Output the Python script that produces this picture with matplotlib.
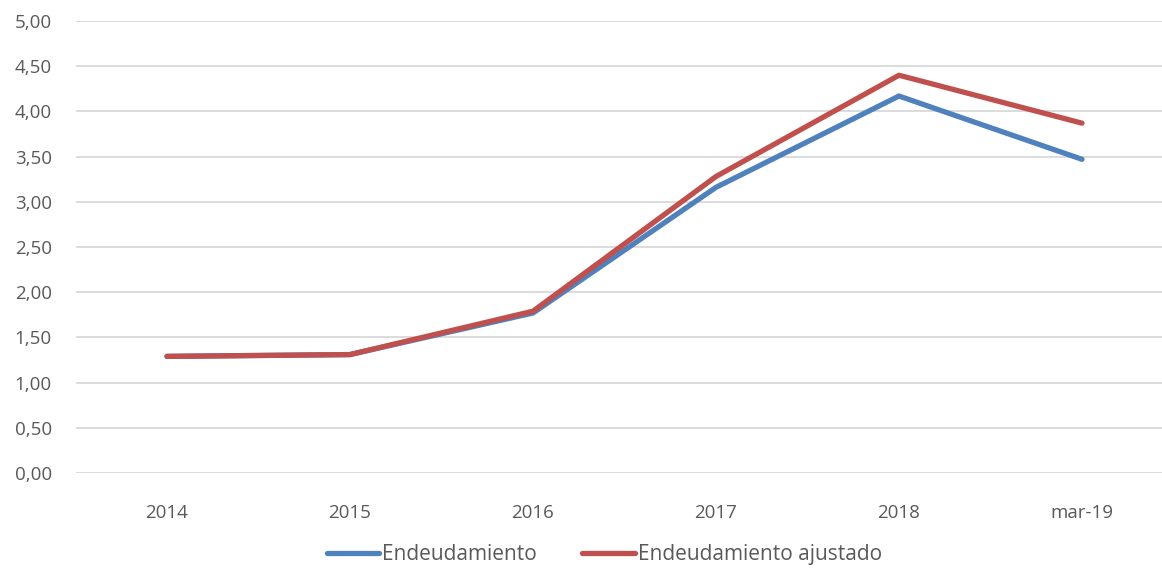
import numpy as np
import matplotlib.pyplot as plt

# data
periodos = ["2014", "2015", "2016", "2017", "2018", "mar-19"]
endeudamiento = [1.29, 1.31, 1.77, 3.16, 4.17, 3.47]
endeudamiento_ajustado = [1.29, 1.31, 1.79, 3.28, 4.40, 3.87]

gris = "#595959"
plt.rcParams['font.family'] = ['Open Sans', 'DejaVu Sans']

fig = plt.figure(figsize=(11.62, 5.68), dpi=100, facecolor='w')
# plot area runs a little past the right edge of the picture, as in the reference
ax = fig.add_axes([75.5 / 1162, 1 - 473 / 568, 1098 / 1162, (473 - 21) / 568])

x = np.arange(len(periodos))
ax.plot(x, endeudamiento, color="#4F81BD", lw=3.8, solid_capstyle='round',
        solid_joinstyle='round', label="Endeudamiento", zorder=3)
ax.plot(x, endeudamiento_ajustado, color="#C0504D", lw=3.8, solid_capstyle='round',
        solid_joinstyle='round', label="Endeudamiento ajustado", zorder=3)

ax.set_xlim(-0.5, len(periodos) - 0.5)
ax.set_ylim(0, 5)
yt = np.arange(0, 5.01, 0.5)
ax.set_yticks(yt)
ax.set_yticklabels([("%.2f" % v).replace(".", ",") for v in yt])
ax.set_xticks(x)
ax.set_xticklabels(periodos)
ax.grid(axis='y', color="#D9D9D9", lw=1.3, zorder=0)
for s in ax.spines.values():
    s.set_visible(False)
ax.tick_params(length=0, colors=gris, labelsize=13.5)
ax.tick_params(axis='x', pad=22)
ax.tick_params(axis='y', pad=17)

leg = fig.legend(loc='lower center', bbox_to_anchor=(0.52, -0.028), ncol=2,
                 frameon=False, fontsize=15, handlelength=2.5, handletextpad=0.15,
                 columnspacing=2.2)
for t in leg.get_texts():
    t.set_color(gris)

fig.savefig("out.png", dpi=100)
